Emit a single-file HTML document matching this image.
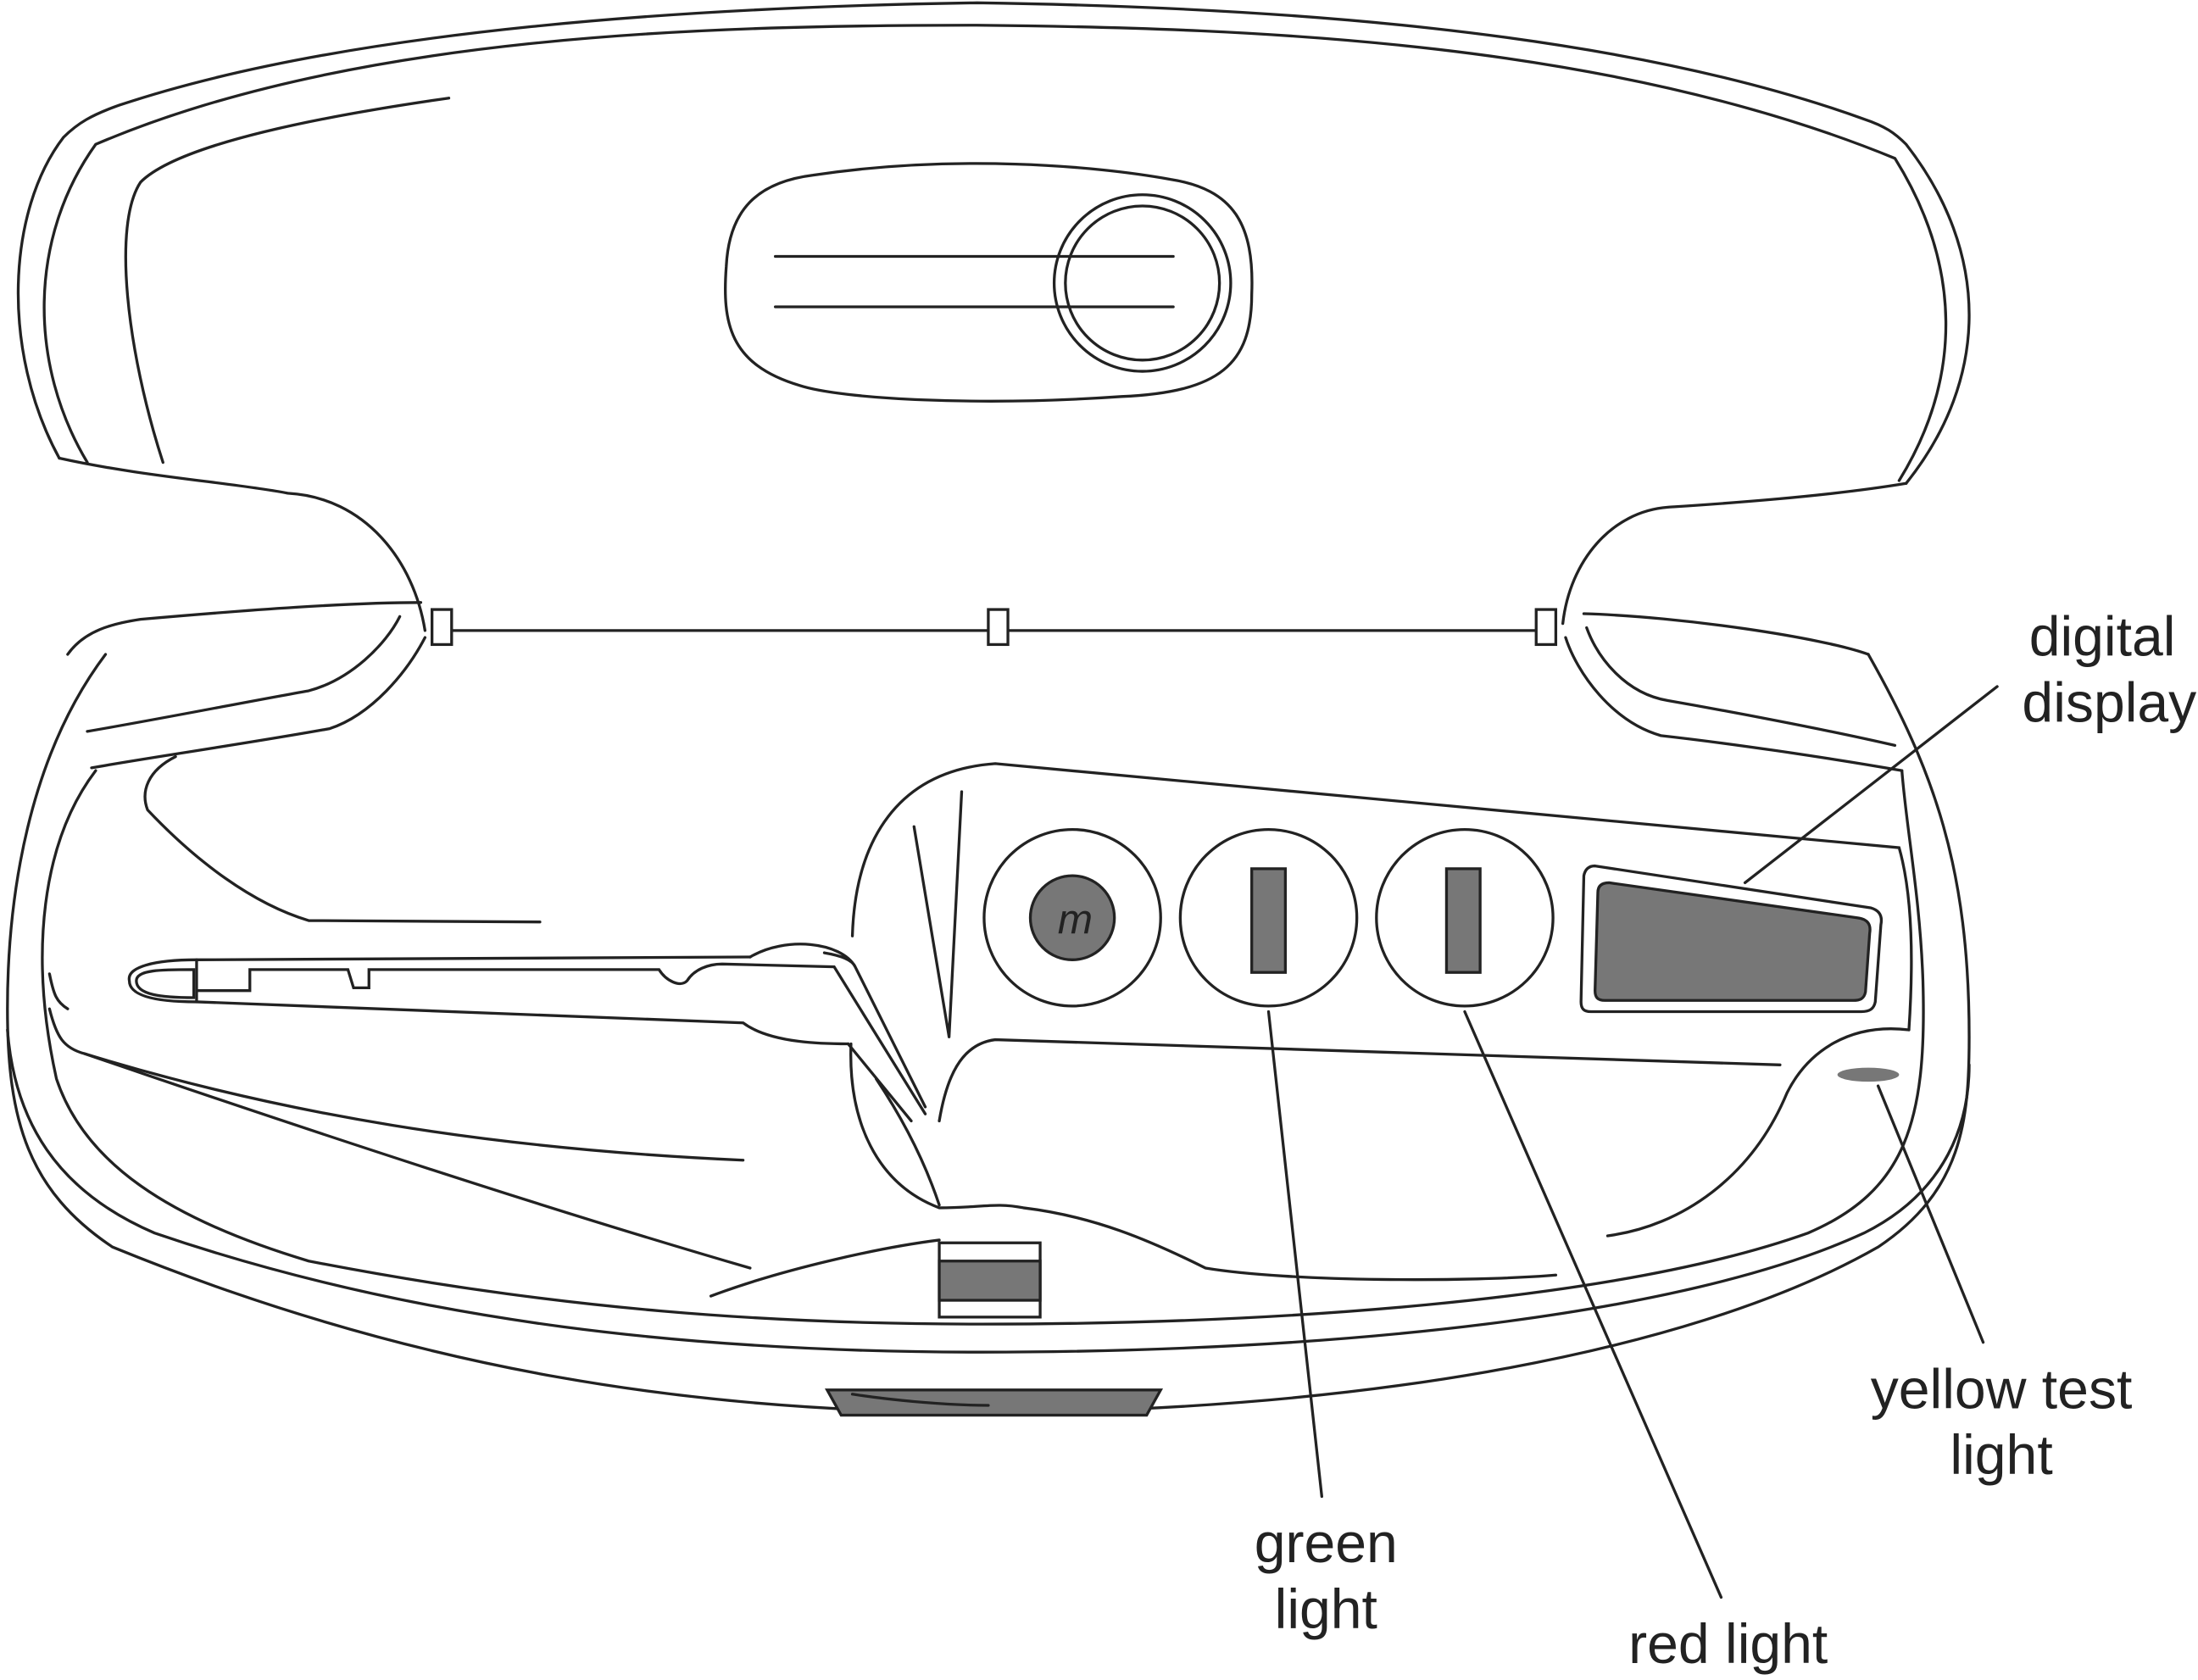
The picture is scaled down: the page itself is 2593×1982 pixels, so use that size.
<!DOCTYPE html>
<html><head><meta charset="utf-8"><style>
html,body{margin:0;padding:0;background:#fff}
svg{display:block}
text{font-family:"Liberation Sans",sans-serif;font-size:40px;fill:#222;text-anchor:middle}
</style></head><body>
<svg width="2593" height="1982" viewBox="0 0 1568 1199" xmlns="http://www.w3.org/2000/svg">
<g fill="none" stroke="#222" stroke-width="2" stroke-linecap="round">
<!-- lid -->
<path d="M42,327 C0,250 5,150 45,98 C55,88 65,82 85,75 C250,20 500,5 697,2 C900,5 1150,20 1330,85 C1345,90 1352,95 1360,103 C1420,180 1420,270 1360,345"/>
<path d="M62,330 C20,260 20,170 68,103 C250,25 500,18 697,18 C900,20 1150,30 1352,113 C1400,190 1400,270 1355,343"/>
<path d="M116,330 C90,250 80,160 100,130 C130,100 250,80 320,70"/>
<path d="M42,327 C100,340 170,345 205,352 C260,355 295,400 303,450"/>
<path d="M1360,345 C1300,355 1220,360 1190,362 C1150,365 1120,400 1115,445"/>
<!-- lid handle -->
<path d="M580,125 C680,110 780,118 835,128 C880,135 895,160 893,210 C893,260 870,280 800,283 C700,290 600,285 570,275 C520,260 515,230 518,190 C520,150 540,130 580,125 Z"/>
<line x1="553" y1="183" x2="837" y2="183"/>
<line x1="553" y1="219" x2="837" y2="219"/>
<circle cx="815" cy="202" r="63"/>
<circle cx="815" cy="202" r="55"/>
<!-- hinge -->
<line x1="322" y1="450" x2="1096" y2="450"/>
<rect x="308" y="435" width="14" height="25" fill="#fff"/>
<rect x="705" y="435" width="14" height="25" fill="#fff"/>
<rect x="1096" y="435" width="14" height="25" fill="#fff"/>
<!-- base rims -->
<path d="M48,467 C60,450 80,445 100,442 C180,435 250,430 300,430"/>
<path d="M62,522 C120,512 180,500 220,493 C250,485 275,460 285,440"/>
<path d="M65,548 C110,540 180,530 235,520 C265,510 290,480 303,455"/>
<path d="M1333,467 C1300,455 1200,440 1130,438"/>
<path d="M1352,532 C1300,520 1230,507 1190,500 C1160,495 1140,470 1132,448"/>
<path d="M1357,550 C1300,540 1230,530 1185,525 C1150,515 1125,480 1117,455"/>
<!-- base shell -->
<path d="M75,467 C20,540 5,640 5,720 C5,800 20,850 80,890 C300,980 500,1008 700,1008 C950,1008 1200,970 1340,890 C1400,850 1405,800 1405,740 C1405,620 1380,550 1333,467"/>
<path d="M5,735 C10,800 40,850 110,880 C300,945 500,965 700,965 C950,965 1200,940 1330,880 C1390,850 1405,800 1405,760"/>
<path d="M68,550 C30,600 20,680 40,770 C60,830 120,870 220,900 C400,935 550,945 700,945 C900,945 1150,930 1290,880 C1360,850 1375,800 1372,700 C1370,640 1360,590 1357,550"/>
<path d="M35,695 C38,710 40,715 48,720"/>
<path d="M35,720 C40,740 45,748 60,752 C200,795 350,820 530,828"/>
<path d="M125,540 C105,550 100,565 105,578 C140,615 180,645 220,657 L385,658"/>
<path d="M60,752 C200,800 380,860 535,905"/>
<path d="M507,925 C560,905 630,890 670,885"/>
<!-- key -->
<path d="M535,683 L140,685 C110,685 90,690 92,700 C92,712 115,715 140,715 L530,730 C550,745 590,745 605,745"/>
<path d="M97,700 C97,692 115,692 138,692 L138,712 C115,712 97,710 97,700 Z"/>
<path d="M140,685 L140,715 M140,707 L178,707 L178,692 L248,692 L252,705 L263,705 L263,692 L470,692 C475,700 485,705 490,700 C495,692 505,688 515,688 L595,690 L660,795 M535,683 C560,668 600,672 610,690 M588,680 C600,682 608,685 610,690 L660,790"/>
<path d="M605,745 L650,800"/>
<!-- control panel -->
<path d="M608,668 C610,600 640,550 710,545 L1355,605 C1365,640 1365,690 1362,735"/>
<path d="M652,590 L677,740 M686,565 L677,740"/>
<path d="M670,800 C675,770 685,745 710,742 L1270,760"/>
<path d="M607,745 C605,800 625,845 670,862 C700,862 710,858 730,862 C780,868 820,885 860,905 C920,915 1050,915 1110,910"/>
<path d="M1362,735 C1320,730 1290,750 1275,780 C1250,840 1200,875 1147,882"/>
<path d="M625,770 C645,800 660,830 670,860"/>
<circle cx="765" cy="655" r="63"/>
<circle cx="905" cy="655" r="63"/>
<circle cx="1045" cy="655" r="63"/>
<circle cx="765" cy="655" r="30" fill="#777"/>
<rect x="893" y="620" width="24" height="74" fill="#777"/>
<rect x="1032" y="620" width="24" height="74" fill="#777"/>
<path d="M1138,618 L1335,648 C1342,650 1343,655 1342,660 L1338,715 C1337,720 1334,722 1328,722 L1135,722 C1130,722 1128,720 1128,715 L1130,625 C1131,620 1134,618 1138,618 Z"/>
<path d="M1148,630 L1325,655 C1333,656 1335,660 1334,666 L1331,708 C1330,713 1327,714 1322,714 L1145,714 C1140,714 1138,712 1138,707 L1140,637 C1140,632 1143,630 1148,630 Z" fill="#777"/>
<ellipse cx="1333" cy="767" rx="22" ry="5" fill="#777" stroke="none"/>
<!-- latch -->
<rect x="670" y="887" width="72" height="53" fill="#fff"/>
<rect x="670" y="900" width="72" height="28" fill="#777"/>
<path d="M590,992 L828,992 L818,1010 L600,1010 Z" fill="#777"/>
<path d="M608,995 C640,1000 680,1003 705,1003"/>
<!-- leaders -->
<line x1="1425" y1="490" x2="1245" y2="630"/>
<line x1="905" y1="722" x2="943" y2="1068"/>
<line x1="1045" y1="722" x2="1228" y2="1140"/>
<line x1="1340" y1="775" x2="1415" y2="958"/>
</g>
<text x="767" y="666" style="font-style:italic;font-size:30px">m</text>
<text x="1500" y="468">digital</text>
<text x="1505" y="515">display</text>
<text x="1428" y="1005">yellow test</text>
<text x="1428" y="1052">light</text>
<text x="946" y="1115">green</text>
<text x="946" y="1162">light</text>
<text x="1233" y="1187">red light</text>
</svg>
</body></html>
